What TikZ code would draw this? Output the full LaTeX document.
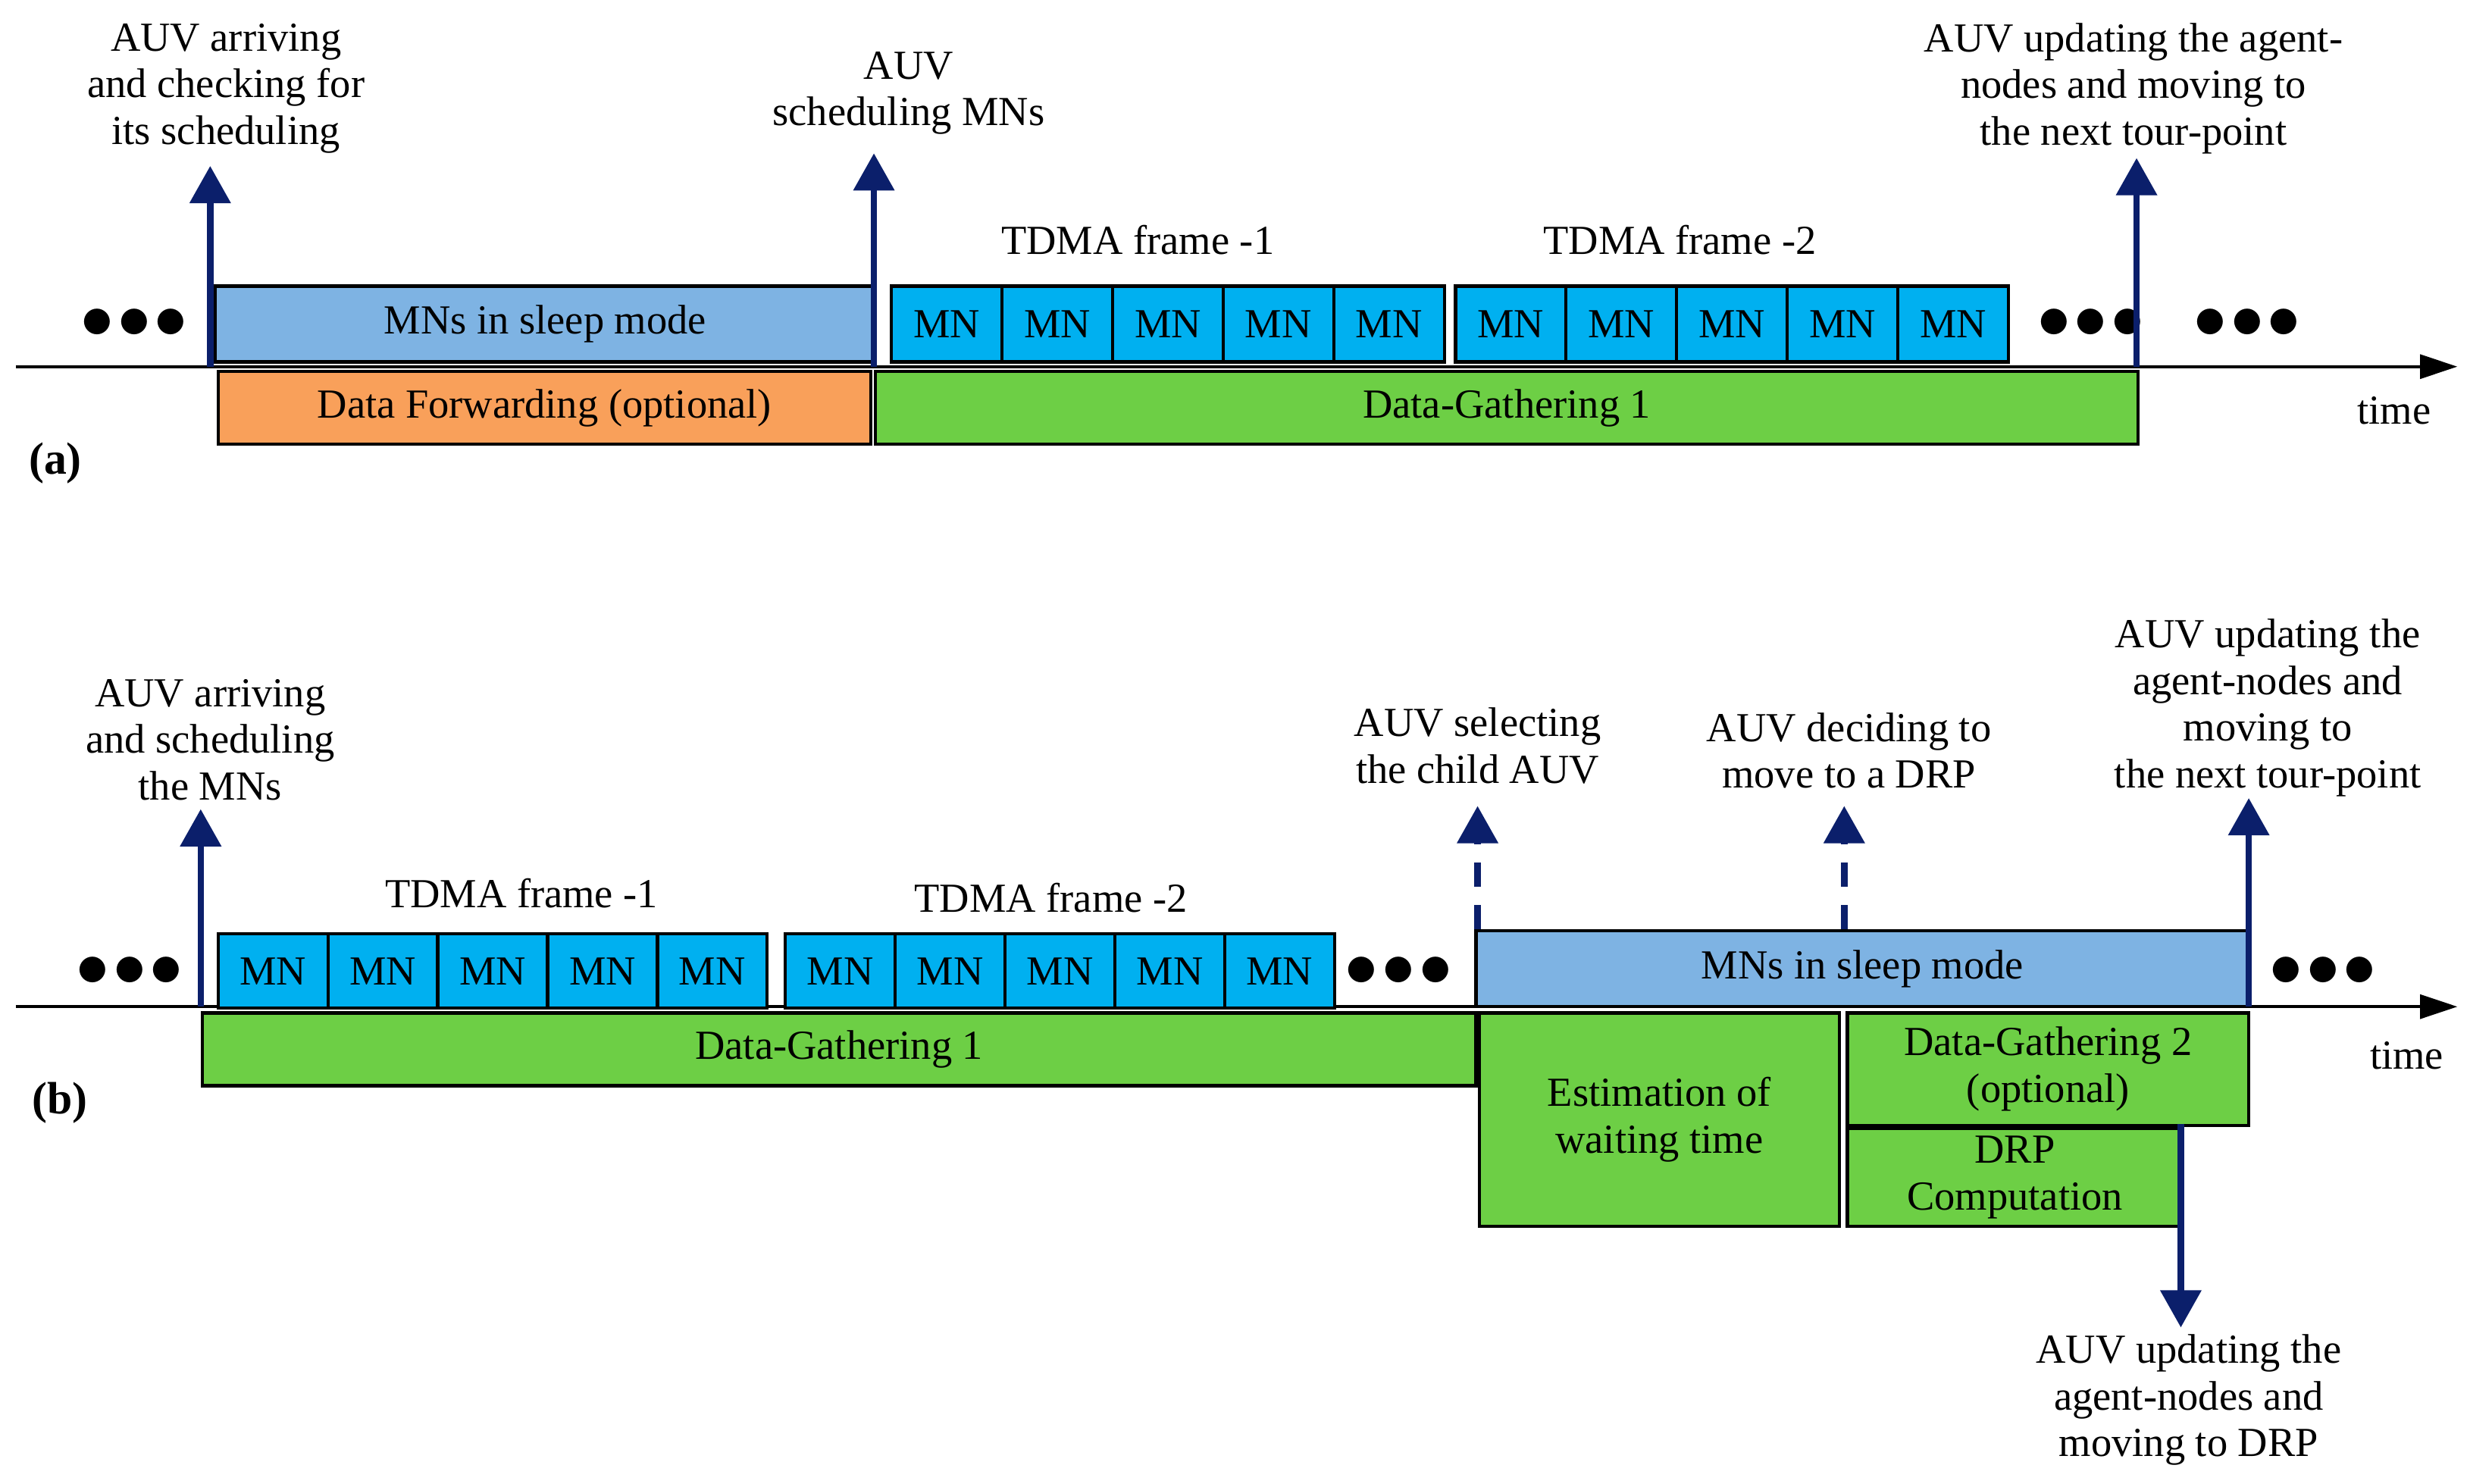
\documentclass[tikz,border=0pt]{standalone}
\usepackage{fontspec}
\setmainfont{Liberation Serif}
\usetikzlibrary{arrows.meta}
\definecolor{sleepc}{HTML}{7EB3E3}
\definecolor{mnc}{HTML}{00B0F0}
\definecolor{grn}{HTML}{6DCF45}
\definecolor{org}{HTML}{F9A05A}
\definecolor{navy}{HTML}{0B1F6B}
\begin{document}
\begin{tikzpicture}[x=0.02085cm,y=-0.02085cm,
  every node/.style={font=\fontsize{15.5}{17.5}\selectfont},
  box/.style={draw=black,line width=1.2pt,inner sep=0pt,anchor=north west},
  lbl/.style={align=center,inner sep=0pt},
  ev/.style={draw=navy,line width=2.4pt,-{Triangle[width=15pt,length=14pt]}},
  evd/.style={ev,dash pattern=on 9pt off 7pt},
  axis/.style={line width=1.2pt,-{Triangle[width=9pt,length=14pt]}},
  dots/.style={inner sep=0pt,font=\fontsize{30}{30}\selectfont\bfseries}]
\useasboundingbox (0,0) rectangle (1563,939);
% ---------- (a)
\coordinate (a0) at (10,232); \coordinate (a1) at (1555,232);
\draw[axis] (a0) -- (a1);
\node[lbl] (ta) at (1515,260) {time};
\node[lbl,font=\fontsize{17}{19}\selectfont\bfseries] (la) at (35,293) {(a)};
\foreach \n/\x in {d1/85,d2/1323,d3/1422}{\node[dots] (a\n) at (\x,205) {$\bullet\!\bullet\!\bullet$};}
\node[box,fill=sleepc,minimum width=418*0.02085cm,minimum height=48*0.02085cm] (asl) at (135,180) {};
\node at (asl.center) {MNs in sleep mode};
\node[box,fill=org,minimum width=413*0.02085cm,minimum height=46*0.02085cm] (afw) at (137,234) {};
\node at (afw.center) {Data Forwarding (optional)};
\node[box,fill=grn,minimum width=799*0.02085cm,minimum height=46*0.02085cm] (adg) at (553,234) {};
\node at (adg.center) {Data-Gathering 1};
\foreach \s/\f in {563/1,920/2}{
 \foreach \i in {0,...,4}{
  \node[box,fill=mnc,minimum width=70*0.02085cm,minimum height=48*0.02085cm] (amn\f\i) at ({\s+70*\i},180) {};
  \node at (amn\f\i.center) {MN};}}
\node[lbl] (atf1) at (720,152) {TDMA frame -1};
\node[lbl] (atf2) at (1063,152) {TDMA frame -2};
\coordinate (e1s) at (133,232); \coordinate (e1e) at (133,105);
\draw[ev] (e1s) -- (e1e);
\node[lbl] (e1t) at (143,56) {AUV arriving\\and checking for\\its scheduling};
\coordinate (e2s) at (553,232); \coordinate (e2e) at (553,97);
\draw[ev] (e2s) -- (e2e);
\node[lbl] (e2t) at (575,59) {AUV\\scheduling MNs};
\coordinate (e3s) at (1352,232); \coordinate (e3e) at (1352,100);
\draw[ev] (e3s) -- (e3e);
\node[lbl] (e3t) at (1350,56) {AUV updating the agent-\\nodes and moving to\\the next tour-point};
% ---------- (b)
\coordinate (b0) at (10,637); \coordinate (b1) at (1555,637);
\draw[axis] (b0) -- (b1);
\node[lbl] (tb) at (1523,668) {time};
\node[lbl,font=\fontsize{17}{19}\selectfont\bfseries] (lb) at (38,698) {(b)};
\foreach \n/\x in {d1/82,d2/885,d3/1470}{\node[dots] (b\n) at (\x,615) {$\bullet\!\bullet\!\bullet$};}
\foreach \s/\f in {137/1,496/2}{
 \foreach \i in {0,...,4}{
  \node[box,fill=mnc,minimum width=69.5*0.02085cm,minimum height=47*0.02085cm] (bmn\f\i) at ({\s+69.5*\i},590) {};
  \node at (bmn\f\i.center) {MN};}}
\node[lbl] (btf1) at (330,565) {TDMA frame -1};
\node[lbl] (btf2) at (665,568) {TDMA frame -2};
\node[box,fill=grn,minimum width=806*0.02085cm,minimum height=46*0.02085cm] (bdg) at (127,640) {};
\node at (bdg.center) {Data-Gathering 1};
\node[box,fill=sleepc,minimum width=489*0.02085cm,minimum height=48*0.02085cm] (bsl) at (933,588) {};
\node at (bsl.center) {MNs in sleep mode};
\node[box,fill=grn,minimum width=228*0.02085cm,minimum height=135*0.02085cm] (best) at (935,640) {};
\node[lbl] at (best.center) {Estimation of\\waiting time};
\node[box,fill=grn,minimum width=254*0.02085cm,minimum height=71*0.02085cm] (bdg2) at (1168,640) {};
\node[lbl] at (bdg2.center) {Data-Gathering 2\\(optional)};
\node[box,fill=grn,minimum width=212*0.02085cm,minimum height=62*0.02085cm] (bdrp) at (1168,713) {};
\node[lbl] at (bdrp.center) {DRP\\Computation};
\coordinate (f1s) at (127,637); \coordinate (f1e) at (127,512);
\draw[ev] (f1s) -- (f1e);
\node[lbl] (f1t) at (133,468) {AUV arriving\\and scheduling\\the MNs};
\coordinate (f2s) at (935,588); \coordinate (f2e) at (935,510);
\draw[evd] (f2s) -- (f2e);
\node[lbl] (f2t) at (935,472) {AUV selecting\\the child AUV};
\coordinate (f3s) at (1167,588); \coordinate (f3e) at (1167,510);
\draw[evd] (f3s) -- (f3e);
\node[lbl] (f3t) at (1170,475) {AUV deciding to\\move to a DRP};
\coordinate (f4s) at (1423,637); \coordinate (f4e) at (1423,505);
\draw[ev] (f4s) -- (f4e);
\node[lbl] (f4t) at (1435,448) {AUV updating the\\agent-nodes and\\moving to\\the next tour-point};
\coordinate (f5s) at (1380,711); \coordinate (f5e) at (1380,840);
\draw[ev] (f5s) -- (f5e);
\node[lbl] (f5t) at (1385,886) {AUV updating the\\agent-nodes and\\moving to DRP};
\end{tikzpicture}
\end{document}
